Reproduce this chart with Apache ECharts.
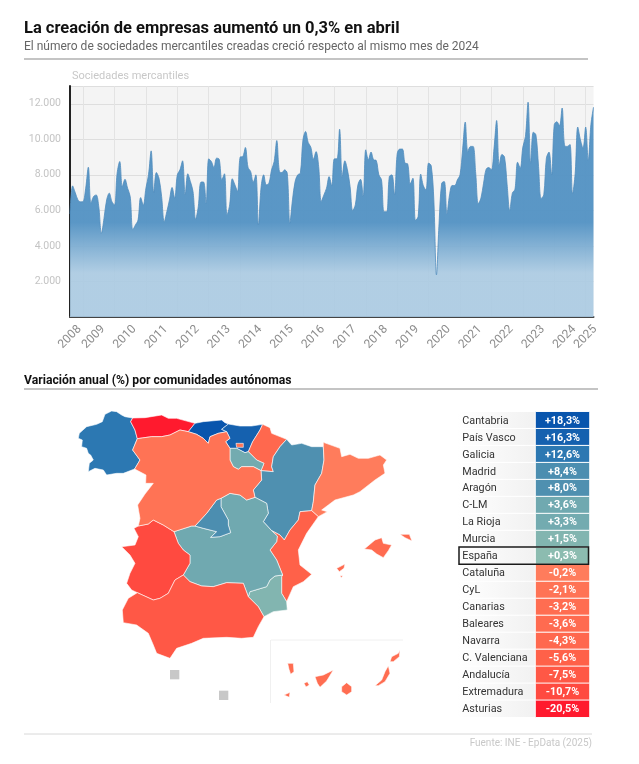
<!DOCTYPE html>
<html><head><meta charset="utf-8">
<style>html,body{margin:0;padding:0;background:#fff}#c{width:639px;height:764px}</style>
<script src="https://cdn.jsdelivr.net/npm/echarts@6/dist/echarts.min.js"></script>
</head><body><div id="c"></div>
<script>
// ---- DATA ----
const firstYear = 2008, firstMonth = 8;
const sociedades = [5800,7380,7000,6600,6480,6500,7250,8430,6400,6780,6870,6200,4700,5560,6590,6970,6500,6300,8090,8750,7340,7750,7250,6780,4900,5180,5460,6720,6300,7250,8000,9350,7000,8130,7810,6780,5370,5930,6590,7290,6690,8000,8280,8790,6870,8060,7620,7060,5500,6200,7590,7600,6400,8900,8750,8410,8940,8880,7720,8060,5750,6310,7780,7440,7060,9000,9030,9540,8430,8190,7590,8000,5180,7300,8000,7440,7530,8280,8750,9930,8190,8130,8280,8090,5280,6590,7620,8000,8090,9970,10440,9820,9560,8880,9310,8470,6500,6870,7250,7900,7380,8900,8900,10570,7870,8790,8280,7340,5990,6310,7440,7750,6780,9410,8850,9280,8850,8810,8000,7720,5930,5930,7900,8000,6870,9180,9450,9450,8660,8620,7490,7810,5430,5650,8040,7380,7150,8660,8510,6590,2370,5280,7530,7620,5800,6870,7400,7400,7720,8000,9410,10970,9310,9600,9600,8090,6370,6690,7530,8320,8410,8280,9500,11060,8510,9150,9000,7440,5990,6970,7190,8710,8380,9560,10160,12090,8660,10400,10250,8470,6670,6870,8940,9280,8000,10820,10990,10760,11760,9630,9600,9710,6930,8090,10690,9970,9500,10690,8810,10820,11810];
const yearLabelMonths = ['2008-08','2009-05','2010-05','2011-05','2012-05','2013-05','2014-05','2015-05','2016-05','2017-05','2018-05','2019-05','2020-05','2021-05','2022-05','2023-05','2024-05','2025-01'];
const yTicks = [2000,4000,6000,8000,10000,12000];
const regionNames = ['Cantabria','País Vasco','Galicia','Madrid','Aragón','C-LM','La Rioja','Murcia','España','Cataluña','CyL','Canarias','Baleares','Navarra','C. Valenciana','Andalucía','Extremadura','Asturias'];
const regionVariation = [18.3,16.3,12.6,8.4,8.0,3.6,3.3,1.5,0.3,-0.2,-2.1,-3.2,-3.6,-4.3,-5.6,-7.5,-10.7,-20.5];

// ---- MAP OUTLINES (shared borders, used only by registerMap) ----
const arcs = {
 galCoast:[[218,54],[195,50],[185,45],[170,35],[155,33],[135,43],[127,65],[110,73],[80,80],[58,100],[55,115],[67,120],[65,140],[80,145],[85,160],[92,165],[100,180],[88,190],[85,215],[105,205],[130,210],[140,225],[170,220],[190,220],[224,207]],
 galAst:[[218,54],[212,65],[225,90],[232,116]],
 galCyl:[[232,116],[218,150],[240,180],[224,207]],
 astCoast:[[218,54],[255,53],[305,45],[325,55],[350,55],[405,70]],
 astCan:[[405,70],[385,95]],
 astCyl:[[232,116],[275,110],[305,110],[330,105],[360,90],[385,95]],
 canCoast:[[405,70],[430,65],[485,60],[495,68],[505,72]],
 canPv:[[505,72],[485,88],[500,95]],
 canCyl:[[385,95],[410,103],[430,115],[445,130],[450,110],[475,100],[500,95]],
 pvCoast:[[505,72],[540,78],[575,78],[608,73]],
 pvNav:[[608,73],[600,90],[578,125],[565,155]],
 pvRio:[[565,155],[555,158],[530,145],[510,145]],
 pvCyl:[[500,95],[510,115],[497,125],[510,145]],
 navN:[[608,73],[630,83],[635,100],[680,118]],
 navAra:[[680,118],[660,140],[640,170],[635,200],[640,215]],
 navS:[[640,215],[603,212]],
 navRio:[[565,155],[590,180],[612,190],[603,212]],
 rioCyl:[[510,145],[510,180],[520,200],[535,208],[545,200],[580,200],[603,212]],
 araFr:[[680,118],[695,135],[725,130],[755,140],[790,140]],
 araCat:[[790,140],[792,180],[785,220],[765,255],[760,305],[755,332]],
 araVal:[[755,332],[720,335],[715,360],[690,390],[673,420],[660,405],[635,392]],
 araClm:[[635,392],[610,365],[625,340],[620,310],[585,292]],
 araCyl:[[585,292],[580,270],[605,240],[603,212]],
 valClm:[[635,392],[652,408],[650,425],[630,450],[650,480],[668,525]],
 catCoast:[[790,140],[790,127],[840,145],[845,170],[870,163],[895,175],[925,175],[960,165],[980,180],[970,195],[975,220],[945,240],[900,275],[880,285],[825,300],[805,315],[785,330],[802,335],[775,350]],
 catVal:[[775,350],[755,332]],
 valCoast:[[775,350],[740,400],[715,450],[720,495],[755,523],[730,545],[700,560],[680,605]],
 valMur:[[680,605],[665,580],[665,530],[668,525]],
 murClm:[[668,525],[645,528],[630,540],[620,560],[570,575],[565,590]],
 murCoast:[[680,605],[682,630],[640,635],[612,650]],
 murAnd:[[612,650],[595,620],[565,590]],
 clmAnd:[[565,590],[550,550],[500,548],[460,560],[425,558],[390,545],[370,525]],
 clmExt:[[370,525],[390,490],[390,465],[370,450],[355,430],[342,395]],
 clmCyl:[[342,395],[395,378],[405,378]],
 clmMad:[[405,378],[430,385],[470,395],[452,412],[480,410],[512,398],[505,375],[505,360],[483,320],[483,295]],
 clmCyl2:[[483,295],[510,280],[540,285],[560,300],[585,292]],
 madCyl:[[405,378],[440,340],[470,300],[483,295]],
 cylExt:[[342,395],[310,375],[280,360],[265,372],[235,378]],
 cylW:[[235,378],[240,355],[233,315],[255,282],[280,250],[257,250],[258,225],[224,207]],
 extW:[[235,378],[222,385],[235,410],[225,435],[185,440],[210,465],[225,490],[210,520],[200,550],[215,570],[232,578]],
 extAnd:[[232,578],[280,600],[300,595],[325,580],[345,540],[370,525]],
 andCoast:[[232,578],[205,595],[187,630],[190,668],[230,675],[265,700],[280,735],[290,760],[330,775],[350,745],[395,730],[430,715],[500,712],[545,715],[580,712],[595,680],[612,650]]
};
const rings = {
 'Galicia':['galCoast','-galCyl','-galAst'],
 'Asturias':['astCoast','astCan','-astCyl','-galAst'],
 'Cantabria':['canCoast','canPv','-canCyl','-astCan'],
 'País Vasco':['pvCoast','pvNav','pvRio','-pvCyl','-canPv'],
 'Navarra':['navN','navAra','navS','-navRio','-pvNav'],
 'La Rioja':['-pvRio','navRio','-rioCyl'],
 'Aragón':['araFr','araCat','araVal','araClm','araCyl','-navS','-navAra'],
 'Cataluña':['catCoast','catVal','-araCat'],
 'C. Valenciana':['valCoast','valMur','-valClm','-araVal','-catVal'],
 'Murcia':['murCoast','murAnd','-murClm','-valMur'],
 'C-LM':['clmCyl2','-araClm','valClm','murClm','clmAnd','clmExt','clmCyl','clmMad'],
 'Madrid':['-clmMad','madCyl'],
 'CyL':['astCyl','canCyl','pvCyl','rioCyl','-araCyl','-clmCyl2','-madCyl','-clmCyl','cylExt','cylW','-galCyl'],
 'Extremadura':['-cylExt','-clmExt','-extAnd','-extW'],
 'Andalucía':['extAnd','-clmAnd','-murAnd','-andCoast']
};
const islands = {
 'CyL':[[[528,130],[550,130],[550,142],[530,142]]],
 'Baleares':[[[913,447],[945,420],[965,413],[970,430],[995,435],[985,452],[970,473],[950,462],[935,450]],[[1020,403],[1048,403],[1056,423],[1035,413]],[[830,505],[855,492],[852,505],[838,515]],[[840,527],[848,527],[844,534]]],
 'Canarias':[[[683,790],[700,790],[702,815],[692,823],[687,808]],[[672,885],[690,877],[688,892]],[[732,850],[742,845],[748,855],[738,861]],[[765,830],[790,825],[820,810],[800,843],[780,862],[772,850]],[[845,860],[860,848],[875,860],[875,875],[860,885],[845,875]],[[945,857],[965,840],[975,815],[985,797],[990,820],[975,845],[955,857]],[[990,785],[995,770],[1015,760],[1020,750],[1018,770],[1000,785]]],
 'Ceuta':[[[330,810],[358,810],[358,838],[330,838]]],
 'Melilla':[[[477,872],[505,872],[505,900],[477,900]]]
};

// ---- BUILD ----
const months = sociedades.map((_, i) => {
  const t = firstYear * 12 + firstMonth - 1 + i;
  return Math.floor(t / 12) + '-' + String(t % 12 + 1).padStart(2, '0');
});
function flip(p){ return [p[0], -p[1]]; }
function closeRing(r){ const o = r.map(flip); o.push(o[0]); return o; }
function buildRing(list){
  const out = [];
  list.forEach(n => {
    const rev = n[0] === '-';
    const a = arcs[rev ? n.slice(1) : n].slice();
    if (rev) a.reverse();
    a.slice(0, a.length - 1).forEach(p => out.push(p));
  });
  return closeRing(out);
}
const featureNames = [...new Set([...Object.keys(rings), ...Object.keys(islands)])];
const orderedNames = featureNames.filter(n => n !== 'CyL').concat('CyL');
const geoJSON = { type:'FeatureCollection', features: orderedNames.map(name => {
  const polys = [];
  if (rings[name]) polys.push([buildRing(rings[name])]);
  (islands[name] || []).forEach(r => polys.push([closeRing(r)]));
  return { type:'Feature', properties:{name}, geometry:{ type:'MultiPolygon', coordinates: polys } };
})};
echarts.registerMap('spain', geoJSON);

const colorStops = [[-20.5,'#ff1a2e'],[-10.7,'#ff4a40'],[-5.6,'#ff6149'],[-0.2,'#ff7c5c'],[0.3,'#8cbcb0'],[3.6,'#70a9b0'],[8.2,'#4e8fb0'],[12.6,'#2c78b2'],[18.3,'#0855ad']];
function colorFor(v){
  for (let i = 0; i < colorStops.length - 1; i++) {
    const a = colorStops[i], b = colorStops[i + 1];
    if (v <= b[0]) return echarts.color.lerp((v - a[0]) / (b[0] - a[0]), [a[1], b[1]]);
  }
  return colorStops[colorStops.length - 1][1];
}
function fmtPct(v){ return (v >= 0 ? '+' : '-') + Math.abs(v).toFixed(1).replace('.', ',') + '%'; }
function fmtThousands(v){ return String(v).replace(/\B(?=(\d{3})+$)/g, '.'); }

const mapData = regionNames.filter(n => n !== 'España').map(n => ({
  name:n, value:regionVariation[regionNames.indexOf(n)],
  itemStyle:{ areaColor:colorFor(regionVariation[regionNames.indexOf(n)]) }
})).concat(['Ceuta','Melilla'].map(n => ({ name:n, itemStyle:{ areaColor:'#c8c8c8', borderWidth:0 } })));

const nameGradient = new echarts.graphic.LinearGradient(0,0,1,0,[{offset:0,color:'#ffffff'},{offset:1,color:'#f1f1f1'}]);
const tableTop = 411.7, tableH = 305.6;

const option = {
  animation:false,
  backgroundColor:'#fff',
  textStyle:{ fontFamily:'Roboto' },
  title:[
    { text:'La creación de empresas aumentó un 0,3% en abril', left:24, top:20, padding:0, textStyle:{ fontFamily:'Roboto', fontSize:16.5, fontWeight:'bold', color:'#111' } },
    { text:'El número de sociedades mercantiles creadas creció respecto al mismo mes de 2024', left:24, top:41, padding:0, textStyle:{ fontFamily:'Roboto', fontSize:12, fontWeight:'normal', color:'#666' } },
    { text:'Sociedades mercantiles', left:72, top:71, padding:0, textStyle:{ fontFamily:'Roboto', fontSize:11, fontWeight:'normal', color:'#c8c8c8' } },
    { text:'Variación anual (%) por comunidades autónomas', left:24, top:375, padding:0, textStyle:{ fontFamily:'Roboto', fontSize:12.2, fontWeight:'bold', color:'#111' } },
    { text:'Fuente: INE - EpData (2025)', right:47, top:738, padding:0, textStyle:{ fontFamily:'Roboto', fontSize:10, fontWeight:'normal', color:'#c8c8c8' } }
  ],
  grid:[
    { left:70, top:86, width:523.5, height:231, show:true, backgroundColor:'#f4f4f4', borderWidth:0 },
    { left:458, top:tableTop, width:77.5, height:tableH },
    { left:535.5, top:tableTop, width:54, height:tableH }
  ],
  xAxis:[
    { gridIndex:0, type:'category', data:months, boundaryGap:false,
      axisLine:{ lineStyle:{ color:'#444', width:2 } }, axisTick:{ show:false },
      splitLine:{ show:true, interval:(i, v) => v.endsWith('-01'), lineStyle:{ color:'#e3e3e3', width:1 } },
      axisLabel:{ customValues:yearLabelMonths, formatter:v => v.slice(0,4), rotate:45, align:'center', verticalAlign:'middle', margin:20, color:'#8c8c8c', fontSize:12, fontFamily:'Roboto', hideOverlap:false } },
    { gridIndex:1, type:'category', data:[''], show:false },
    { gridIndex:2, type:'category', data:[''], show:false }
  ],
  yAxis:[
    { gridIndex:0, type:'value', min:0, max:13000, interval:2000,
      axisLine:{ show:true, lineStyle:{ color:'#222', width:2 } }, axisTick:{ show:false },
      splitLine:{ show:true, lineStyle:{ color:'#dedede', width:1 } },
      axisLabel:{ margin:9, color:'#c4c4c4', fontSize:10.5, fontFamily:'Roboto', formatter:v => yTicks.includes(v) ? fmtThousands(v) : '' } },
    { gridIndex:1, type:'category', data:regionNames, inverse:true, show:false },
    { gridIndex:2, type:'category', data:regionNames, inverse:true, show:false }
  ],
  series:[
    { type:'line', xAxisIndex:0, yAxisIndex:0, data:sociedades, smooth:0.35, showSymbol:false, silent:true,
      lineStyle:{ color:'#4f8cbd', width:0.8 },
      areaStyle:{ opacity:1, color:new echarts.graphic.LinearGradient(0,86,0,317,[
        {offset:0,color:'rgba(84,147,196,0.96)'},{offset:0.59,color:'rgba(84,147,196,0.96)'},
        {offset:0.81,color:'rgba(170,202,226,0.9)'},{offset:1,color:'rgba(170,202,226,0.9)'}],true) } },
    { type:'map', map:'spain', left:78.3, top:411, width:333.7, height:289, aspectScale:1, roam:false, silent:true,
      data:mapData, label:{ show:false }, emphasis:{ disabled:true }, select:{ disabled:true },
      itemStyle:{ borderColor:'rgba(255,255,255,0.85)', borderWidth:0.7 } },
    { type:'heatmap', xAxisIndex:1, yAxisIndex:1, silent:true,
      data:regionNames.map((n,i) => ({ value:[0,i,regionVariation[i]], itemStyle:{ color:nameGradient, borderColor:'#fff', borderWidth:1 } })),
      label:{ show:true, position:'insideLeft', offset:[0,0.7], formatter:p => regionNames[p.value[1]], color:'#333', fontSize:10.8, fontFamily:'Roboto' } },
    { type:'heatmap', xAxisIndex:2, yAxisIndex:2, silent:true,
      data:regionNames.map((n,i) => ({ value:[0,i,regionVariation[i]], itemStyle:{ color:colorFor(regionVariation[i]), borderColor:'#fff', borderWidth:1 } })),
      label:{ show:true, offset:[0,0.7], formatter:p => fmtPct(p.value[2]), color:'#fff', fontSize:10.8, fontWeight:'bold', fontFamily:'Roboto' } }
  ],
  graphic:[
    { type:'line', silent:true, shape:{x1:24,y1:59,x2:588,y2:59}, style:{stroke:'#8a8a8a',lineWidth:1.2} },
    { type:'line', silent:true, shape:{x1:24,y1:389,x2:598,y2:389}, style:{stroke:'#8a8a8a',lineWidth:1.2} },
    { type:'line', silent:true, shape:{x1:24,y1:734,x2:592,y2:734}, style:{stroke:'#d8d8d8',lineWidth:1} },
    { type:'line', silent:true, shape:{x1:271,y1:640,x2:403,y2:640}, style:{stroke:'#f0f0f0',lineWidth:1} },
    { type:'line', silent:true, shape:{x1:270.5,y1:640,x2:270.5,y2:703}, style:{stroke:'#f0f0f0',lineWidth:1} },
    { type:'rect', silent:true, z:100, shape:{x:459,y:547,width:129.5,height:17.3}, style:{fill:'none',stroke:'#1a1a1a',lineWidth:1.5} }
  ]
};
const chart = echarts.init(document.getElementById('c'), null, { renderer:'canvas' });
chart.setOption(option);
</script></body></html>
